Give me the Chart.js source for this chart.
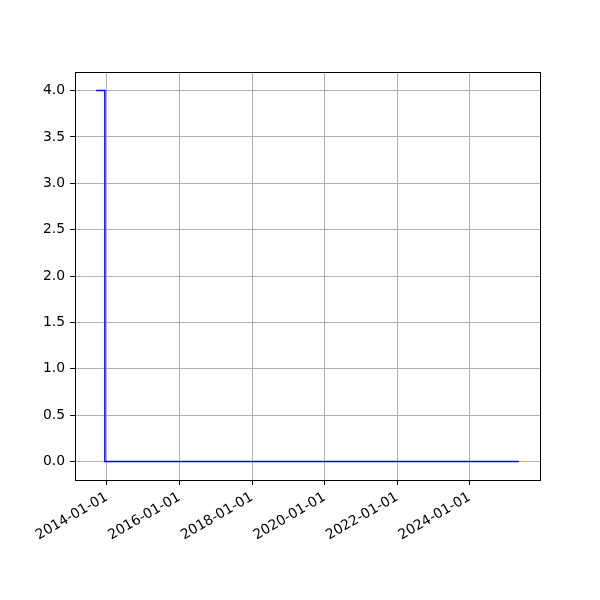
<!DOCTYPE html>
<html>
<head>
<meta charset="utf-8">
<script src="https://cdn.jsdelivr.net/npm/chart.js@4/dist/chart.umd.min.js"></script>
<style>
  body { margin: 0; background: #fff; }
  #wrap { width: 600px; height: 600px; }
</style>
</head>
<body>
<div id="wrap"><canvas id="myChart" width="600" height="600"></canvas></div>
<script>
// data
const dates = ['2013-09-15', '2013-12-12', '2025-05-10'];
const values = [4, 0, 0];
const xTickDates = ['2014-01-01', '2016-01-01', '2018-01-01', '2020-01-01', '2022-01-01', '2024-01-01'];
const yTicks = [0, 0.5, 1, 1.5, 2, 2.5, 3, 3.5, 4];

const xs = dates.map(function (d) { return Date.parse(d + 'T00:00:00Z'); });
const xTickValues = xTickDates.map(function (d) { return Date.parse(d + 'T00:00:00Z'); });

// matplotlib style 5% margins
const span = xs[xs.length - 1] - xs[0];
const xMin = xs[0] - span * 0.05;
const xMax = xs[xs.length - 1] + span * 0.05;
const yMinV = Math.min.apply(null, values), yMaxV = Math.max.apply(null, values);
const yPad = (yMaxV - yMinV) * 0.05;

const boxPlugin = {
    id: 'box',
    afterDraw: function (chart) {
        const a = chart.chartArea;
        const c = chart.ctx;
        c.save();
        c.strokeStyle = '#000';
        c.lineWidth = 1;
        c.strokeRect(Math.round(a.left) + 0.5, Math.round(a.top) + 0.5, Math.round(a.right - a.left), Math.round(a.bottom - a.top));
        c.restore();
    }
};

const font = { family: 'DejaVu Sans', size: 13.9 };
const ctx = document.getElementById('myChart').getContext('2d');
window.myChart = new Chart(ctx, {
    type: 'line',
    data: {
        datasets: [{
            data: xs.map(function (x, i) { return { x: x, y: values[i] }; }),
            borderColor: '#0000ff',
            borderWidth: 1.5,
            pointRadius: 0,
            stepped: 'before',
            fill: false
        }]
    },
    options: {
        responsive: false,
        animation: false,
        layout: { padding: { top: 72, right: 60, left: 0, bottom: 0 } },
        plugins: { legend: { display: false }, tooltip: { enabled: false } },
        scales: {
            x: {
                type: 'linear',
                min: xMin,
                max: xMax,
                afterBuildTicks: function (scale) {
                    scale.ticks = xTickValues.map(function (v) { return { value: v }; });
                },
                afterFit: function (scale) { scale.height = 120; },
                grid: { color: '#b0b0b0', lineWidth: 1, tickColor: '#000', tickLength: 5 },
                border: { display: false },
                ticks: {
                    color: '#000',
                    font: font,
                    padding: 4,
                    minRotation: 30,
                    maxRotation: 30,
                    autoSkip: false,
                    callback: function (v) {
                        const i = xTickValues.indexOf(v);
                        return i >= 0 ? xTickDates[i] : '';
                    }
                }
            },
            y: {
                type: 'linear',
                min: yMinV - yPad,
                max: yMaxV + yPad,
                afterBuildTicks: function (scale) {
                    scale.ticks = yTicks.map(function (v) { return { value: v }; });
                },
                afterFit: function (scale) { scale.width = 75; },
                grid: { color: '#b0b0b0', lineWidth: 1, tickColor: '#000', tickLength: 5 },
                border: { display: false },
                ticks: {
                    color: '#000',
                    font: font,
                    padding: 5,
                    callback: function (v) { return Number(v).toFixed(1); }
                }
            }
        }
    },
    plugins: [boxPlugin]
});
</script>
</body>
</html>
